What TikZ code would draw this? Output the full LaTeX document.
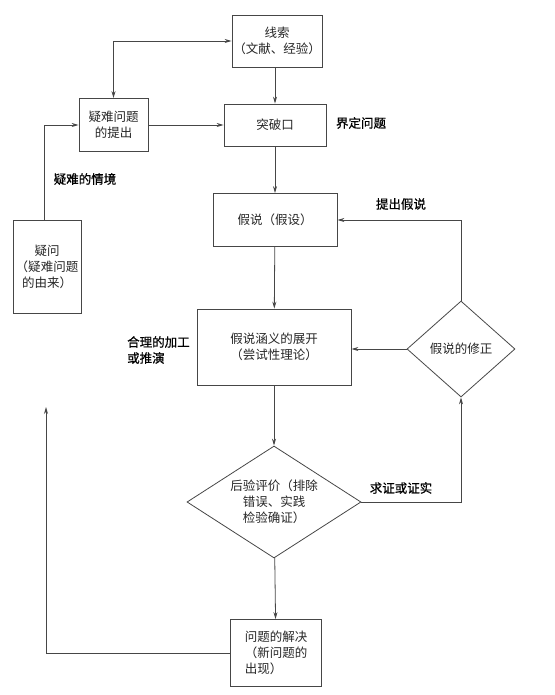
\documentclass[tikz,border=0pt]{standalone}
\usepackage{fontspec}
\newfontfamily\cjk{Noto Sans CJK SC}
\newfontfamily\cjkbold[FakeBold=0.8]{Noto Sans CJK SC}
\usetikzlibrary{shapes.geometric,arrows.meta}
\definecolor{linegray}{RGB}{70,70,70}

\begin{document}
\begin{tikzpicture}[x=1pt,y=-1pt,>={Stealth[length=7pt,width=4pt]},
    box/.style={draw=linegray, line width=0.8pt, align=center, inner sep=1pt,
        font=\cjk\fontsize{12.5}{16}\selectfont, text=black!85},
    decision/.style={box, diamond, inner sep=0pt},
    lbl/.style={font=\cjkbold\fontsize{12.5}{16}\selectfont, inner sep=0pt},
    link/.style={draw=linegray, line width=0.8pt}]
    \useasboundingbox (0,0) rectangle (554,695);

    %% Boxes of the main column
    \node[box, minimum width=90, minimum height=52] (clue) at (277,41) {线索\\（文献、经验）};
    \node[box, minimum width=102, minimum height=42] (break) at (275,125) {突破口};
    \node[box, minimum width=124, minimum height=53] (hyp) at (275,220) {假说（假设）};
    \node[box, minimum width=154, minimum height=76] (expand) at (274,347) {假说涵义的展开\\（尝试性理论）};
    \node[decision, minimum width=174, minimum height=112, shape aspect=1.55] (eval) at (274,502)
        {后验评价（排除\\错误、实践\\检验确证）};
    \node[box, align=left, minimum width=91, minimum height=67] (solve) at (276,653) {问题的解决\\（新问题的\\出现）};

    %% Boxes on the left and on the right
    \node[box, minimum width=69, minimum height=53] (pose) at (113.5,125) {疑难问题\\的提出};
    \node[box, minimum width=68, minimum height=93] (doubt) at (47,266.5) {疑问\\（疑难问题\\的由来）};
    \node[decision, minimum width=108, minimum height=96, shape aspect=1.12] (revise) at (461,349) {假说的修正};
    \coordinate (back) at (46,407);

    %% Labels
    \node[lbl] (define) at (361,123) {界定问题};
    \node[lbl] (situation) at (85,179) {疑难的情境};
    \node[lbl] (propose) at (401,204) {提出假说};
    \node[lbl, align=left, anchor=west] (deduce) at (127,350) {合理的加工\\或推演};
    \node[lbl] (verify) at (401,488) {求证或证实};

    %% Connectors
    \draw[link, <->] (clue.west) -| (pose.north);
    \draw[link, ->] (clue.south -| break.north) -- (break.north);
    \draw[link, ->] (pose.east) -- (break.west);
    \draw[link, ->] (doubt.north -| 44,0) |- (pose.west);
    \draw[link, ->] (break) -- (hyp);
    \draw[link, ->] (hyp) -- (expand);
    \draw[link, ->] (expand.south -| eval.north) -- (eval.north);
    \draw[link, ->] (eval) -- (solve);
    \draw[link, ->] (eval.east) -| (revise.south);
    \draw[link, ->] (revise.north) |- (hyp.east);
    \draw[link, ->] (revise.west) -- (revise.west -| expand.east);
    \draw[link, ->] (solve.west) -| (back);
\end{tikzpicture}
\end{document}
